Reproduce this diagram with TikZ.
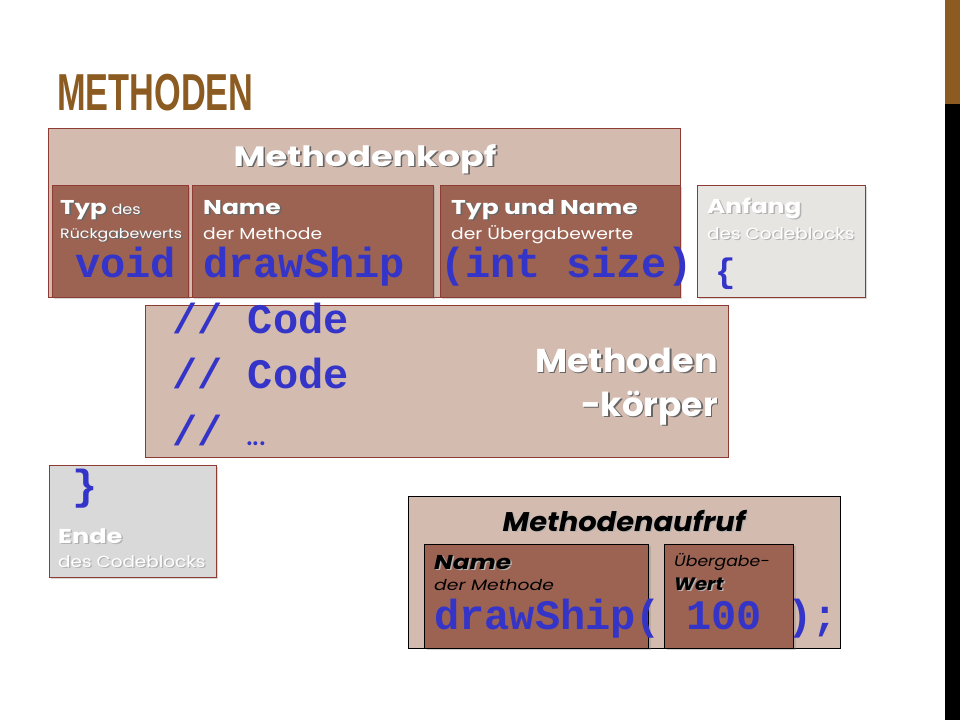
\documentclass[tikz,border=0pt]{standalone}
\usepackage{fontspec}
\setmainfont{Poppins}
\newfontfamily\codefont{Liberation Mono}
\newfontfamily\impactfont{Liberation Sans}
\usetikzlibrary{shadows}
\definecolor{lightbrown}{HTML}{D4BBB0}
\definecolor{darkbrown}{HTML}{9C6353}
\definecolor{boxred}{HTML}{8E3B33}
\definecolor{anfanggray}{HTML}{E6E5E2}
\definecolor{endegray}{HTML}{D9D9D9}
\definecolor{codeblue}{HTML}{3434C9}
\definecolor{titlebrown}{HTML}{8C5B21}
\newcommand{\fs}[1]{\fontsize{#1}{#1}\selectfont}
\newcommand{\widen}[2]{\scalebox{#1}[1]{#2}}
\newcommand{\shd}[1]{\makebox[0pt][l]{\hspace*{1.3pt}\raisebox{-1.3pt}{\textcolor{black!60}{#1}}}#1}
\newcommand{\shl}[1]{\makebox[0pt][l]{\hspace*{1.2pt}\raisebox{-1.2pt}{\textcolor{black!30}{#1}}}#1}
\begin{document}
\begin{tikzpicture}[x=1pt,y=-1pt,
  panel/.style={draw=boxred, line width=0.8pt, fill=lightbrown, anchor=north west, inner sep=0pt, outer sep=0pt},
  part/.style={draw=boxred, line width=0.8pt, fill=darkbrown, anchor=north west, inner sep=0pt, outer sep=0pt,
    drop shadow={shadow xshift=2pt,shadow yshift=-2pt,opacity=0.3}},
  graybox/.style={draw=boxred, line width=0.8pt, anchor=north west, inner sep=0pt, outer sep=0pt,
    drop shadow={shadow xshift=2pt,shadow yshift=-2pt,opacity=0.3}},
  callpanel/.style={draw=black, line width=0.8pt, fill=lightbrown, anchor=north west, inner sep=0pt, outer sep=0pt},
  callpart/.style={draw=black, line width=0.8pt, fill=darkbrown, anchor=north west, inner sep=0pt, outer sep=0pt,
    drop shadow={shadow xshift=3pt,shadow yshift=-2pt,opacity=0.3}},
  lbl/.style={anchor=base west, inner sep=0pt, text=white},
  dlbl/.style={anchor=base west, inner sep=0pt, text=black},
  code/.style={anchor=base west, inner sep=0pt, text=codeblue, font=\codefont\bfseries\fs{42}},
]
\useasboundingbox (0,0) rectangle (960,720);
\fill[white] (0,0) rectangle (960,720);
% right bar
\fill[titlebrown] (945,0) rectangle (960,104);
\fill[black] (945,104) rectangle (960,720);

% title
\node[anchor=base west, inner sep=0pt, text=titlebrown] (title) at (57,110)
  {\scalebox{0.66}[1]{\impactfont\bfseries\fs{52}METHODEN}};

% Methodenkopf
\node[panel, minimum width=632, minimum height=169] (kopf) at (48,128) {};
\node[part, minimum width=136, minimum height=112] (typ) at (52,185) {};
\node[part, minimum width=241, minimum height=112] (name) at (192,185) {};
\node[part, minimum width=240, minimum height=112] (param) at (440,185) {};
\node[graybox, fill=anfanggray, minimum width=168, minimum height=112] (anfang) at (697,185) {};

\node[anchor=base, inner sep=0pt, text=white, font=\bfseries\fs{28}] (kopft) at (365,166) {\widen{1.25}{\shd{Methodenkopf}}};

\node[lbl] (typl) at (60,214) {\widen{1.22}{\bfseries\fs{20}\shd{Typ}}\hspace{5pt}\widen{1.15}{\fs{14}\shd{des}}};
\node[lbl, font=\fs{13.5}] (typl2) at (60,238) {\widen{1.17}{\shd{Rückgabewerts}}};
\node[lbl, font=\bfseries\fs{20}] (namel) at (203,214) {\widen{1.25}{\shd{Name}}};
\node[lbl, font=\fs{16}] (namel2) at (203,239) {\widen{1.17}{der Methode}};
\node[lbl, font=\bfseries\fs{20}] (paraml) at (451,214) {\widen{1.25}{\shd{Typ und Name}}};
\node[lbl, font=\fs{16}] (paraml2) at (451,239) {\widen{1.17}{der Übergabewerte}};
\node[lbl, font=\bfseries\fs{20}] (anfl) at (707,213) {\widen{1.24}{\shl{Anfang}}};
\node[lbl, font=\fs{16}] (anfl2) at (707,239) {\widen{1.15}{\shl{des Codeblocks}}};

\node[code] (cvoid) at (75,277) {void};
\node[code] (cdraw) at (203,277) {drawShip};
\node[code] (cparam) at (440,277) {(int size)};
\node[code, font=\codefont\bfseries\fs{34}] (copen) at (715,282) {\{};

% Methodenkoerper
\node[panel, minimum width=583, minimum height=152] (koerper) at (145,305) {};
\node[code] (line1) at (172,333) {// Code};
\node[code] (line2) at (172,388) {// Code};
\node[code] (line3) at (172,445) {//};
\node[anchor=base west, inner sep=0pt, text=codeblue, font=\fs{32}] (dots) at (246,445) {...};
\node[anchor=base east, inner sep=0pt, text=white, font=\bfseries\fs{33}] (methA) at (718,372) {\widen{1.06}{\shd{Methoden}}};
\node[anchor=base east, inner sep=0pt, text=white, font=\bfseries\fs{33}] (methB) at (718,416) {\widen{1.04}{\shd{-körper}}};

% Ende
\node[graybox, fill=endegray, minimum width=167, minimum height=112] (ende) at (49,465) {};
\node[code] (cclose) at (72,499) {\}};
\node[lbl, font=\bfseries\fs{20}] (endel) at (58,543) {\widen{1.28}{\shl{Ende}}};
\node[lbl, font=\fs{16}] (endel2) at (58,567) {\widen{1.15}{\shl{des Codeblocks}}};

% Methodenaufruf
\node[callpanel, minimum width=432, minimum height=152] (aufruf) at (408,496) {};
\node[callpart, minimum width=224, minimum height=104] (cname) at (424,544) {};
\node[callpart, minimum width=129, minimum height=104] (cval) at (664,544) {};
\node[anchor=base, inner sep=0pt, text=black, font=\bfseries\itshape\fs{27}] (aufrufl) at (624,531) {\widen{1.07}{\shl{Methodenaufruf}}};
\node[dlbl, font=\bfseries\itshape\fs{20}] (cnamel) at (434,569) {\widen{1.24}{\shl{Name}}};
\node[dlbl, font=\itshape\fs{15}] (cnamel2) at (434,590) {\widen{1.25}{der Methode}};
\node[dlbl, font=\itshape\fs{15}] (cvall) at (674,566) {\widen{1.15}{Übergabe-}};
\node[dlbl, font=\bfseries\itshape\fs{18}] (cvall2) at (674,590) {\widen{1.1}{\shl{Wert}}};
\node[code] (callcode) at (434,629) {drawShip( 100 );};
\end{tikzpicture}
\end{document}
